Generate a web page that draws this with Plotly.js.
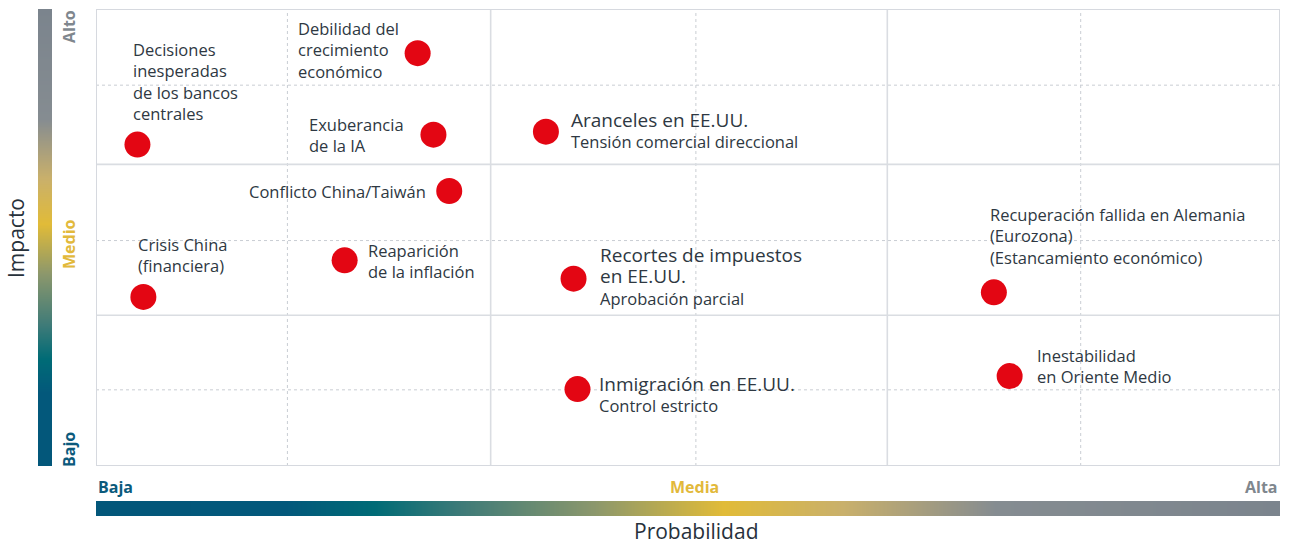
<!DOCTYPE html>
<html><head><meta charset="utf-8">
<script src="https://cdn.plot.ly/plotly-3.0.1.min.js"></script>
<style>html,body{margin:0;padding:0;background:#fff}#chart{width:1290px;height:544px}</style>
</head><body><div id="chart"></div>
<script>
// ---- data ----
const risks = [
  "Decisiones inesperadas de los bancos centrales",
  "Debilidad del crecimiento económico",
  "Exuberancia de la IA",
  "Aranceles en EE.UU.",
  "Conflicto China/Taiwán",
  "Crisis China (financiera)",
  "Reaparición de la inflación",
  "Recortes de impuestos en EE.UU.",
  "Inmigración en EE.UU.",
  "Recuperación fallida en Alemania",
  "Inestabilidad en Oriente Medio"
];
// Probabilidad (0 = Baja, 3 = Media, 6 = Alta)
const probability = [0.21, 1.63, 1.71, 2.28, 1.79, 0.24, 1.26, 2.42, 2.44, 4.55, 4.63];
// Impacto (0 = Bajo, 3 = Medio, 6 = Alto)
const impact = [4.22, 5.42, 4.35, 4.39, 3.61, 2.22, 2.70, 2.46, 1.01, 2.28, 1.18];

const labelHeads = ["", "", "", "Aranceles en EE.UU.", "", "", "",
  "Recortes de impuestos<br>en EE.UU.", "Inmigración en EE.UU.", "", ""];
const labelBodies = [
  "Decisiones<br>inesperadas<br>de los bancos<br>centrales",
  "Debilidad del<br>crecimiento<br>económico",
  "Exuberancia<br>de la IA",
  "Tensión comercial direccional",
  "Conflicto China/Taiwán",
  "Crisis China<br>(financiera)",
  "Reaparición<br>de la inflación",
  "Aprobación parcial",
  "Control estricto",
  "Recuperación fallida en Alemania<br>(Eurozona)<br>(Estancamiento económico)",
  "Inestabilidad<br>en Oriente Medio"
];
const xLevels = ["Baja", "Media", "Alta"];
const yLevels = ["Bajo", "Medio", "Alto"];
const xTitle = "Probabilidad";
const yTitle = "Impacto";

// ---- layout config (positions / styles) ----
const labelPlacement = [
  {anchor: 'left',  dx: -6,  dy: 63},
  {anchor: 'right', dx: -17, dy: 3},
  {anchor: 'right', dx: -27, dy: 0},
  {anchor: 'left',  dx: 23,  dy: 2},
  {anchor: 'right', dx: -21, dy: 0},
  {anchor: 'left',  dx: -7,  dy: 42},
  {anchor: 'left',  dx: 21,  dy: -1},
  {anchor: 'left',  dx: 24,  dy: 3},
  {anchor: 'left',  dx: 20,  dy: -5},
  {anchor: 'left',  dx: -6,  dy: 56},
  {anchor: 'left',  dx: 25,  dy: 10}
];
const FONT = "Open Sans, Noto Sans, sans-serif";
const TEXT = "#2e3842";
const gradScale = [
  [0, '#03577a'], [0.16, '#03587b'], [0.235, '#006b76'], [0.31, '#3f7b78'],
  [0.42, '#8b976c'], [0.53, '#e1bb38'], [0.63, '#c9b06b'], [0.76, '#858c91'], [1, '#7b848d']
];
const cBlue = '#0b5a7c', cYellow = '#e2b93b', cGray = '#7f878e';

const traces = [
  {type: 'heatmap', x: [0, 1], y: [0], z: [[0, 1]], zmin: 0, zmax: 1, zsmooth: 'best',
   colorscale: gradScale, showscale: false, hoverinfo: 'skip', xaxis: 'x2', yaxis: 'y2'},
  {type: 'heatmap', x: [0], y: [0, 1], z: [[0], [1]], zmin: 0, zmax: 1, zsmooth: 'best',
   colorscale: gradScale, showscale: false, hoverinfo: 'skip', xaxis: 'x3', yaxis: 'y3'},
  {type: 'scatter', mode: 'markers', x: probability, y: impact, text: risks,
   hoverinfo: 'text', marker: {size: 26, color: '#e30613'}, cliponaxis: false}
];

const shapes = [];
const gridSolidX = [2.0, 4.01], gridSolidY = [1.98, 3.96];
const gridDotX = [0.97, 3.04, 4.99], gridDotY = [1.0, 2.96, 5.0];
gridDotX.forEach(v => shapes.push({type:'line', xref:'x', yref:'y', x0:v, x1:v, y0:0, y1:6, layer:'below', line:{color:'#c9cdd3', width:1, dash:'dot'}}));
gridDotY.forEach(v => shapes.push({type:'line', xref:'x', yref:'y', y0:v, y1:v, x0:0, x1:6, layer:'below', line:{color:'#c9cdd3', width:1, dash:'dot'}}));
gridSolidX.forEach(v => shapes.push({type:'line', xref:'x', yref:'y', x0:v, x1:v, y0:0, y1:6, layer:'below', line:{color:'#dadde2', width:1.6}}));
gridSolidY.forEach(v => shapes.push({type:'line', xref:'x', yref:'y', y0:v, y1:v, x0:0, x1:6, layer:'below', line:{color:'#dadde2', width:1.6}}));
shapes.push({type:'rect', xref:'x', yref:'y', x0:0, x1:6, y0:0, y1:6, layer:'below', line:{color:'#d6d9df', width:2}});

const annotations = [];
risks.forEach((r, i) => {
  const p = labelPlacement[i];
  const txt = labelHeads[i] ? `<span style="font-size:19px">${labelHeads[i]}</span><br>${labelBodies[i]}` : labelBodies[i];
  annotations.push({xref:'x', yref:'y', x: probability[i], y: impact[i], text: txt, showarrow:false,
    xanchor: p.anchor, yanchor:'middle', align: 'left', xshift: p.dx, yshift: p.dy,
    font:{family: FONT, size: 16.5, color: TEXT}});
});
// level labels
const W = 1280, H = 535, T = 9;
const px = v => v / W, py = v => 1 - (v - T) / H;
annotations.push({xref:'paper', yref:'paper', x:px(96), y:py(487), xanchor:'left', yanchor:'middle', text:'<b>'+xLevels[0]+'</b>', showarrow:false, font:{family:FONT, size:16, color:cBlue}});
annotations.push({xref:'paper', yref:'paper', x:px(694), y:py(487), xanchor:'center', yanchor:'middle', text:'<b>'+xLevels[1]+'</b>', showarrow:false, font:{family:FONT, size:16, color:cYellow}});
annotations.push({xref:'paper', yref:'paper', x:px(1280), y:py(487), xanchor:'right', yanchor:'middle', text:'<b>'+xLevels[2]+'</b>', showarrow:false, font:{family:FONT, size:16, color:cGray}});
annotations.push({xref:'paper', yref:'paper', x:px(69), y:py(450), xanchor:'center', yanchor:'middle', textangle:-90, text:'<b>'+yLevels[0]+'</b>', showarrow:false, font:{family:FONT, size:16, color:cBlue}});
annotations.push({xref:'paper', yref:'paper', x:px(69), y:py(244), xanchor:'center', yanchor:'middle', textangle:-90, text:'<b>'+yLevels[1]+'</b>', showarrow:false, font:{family:FONT, size:16, color:cYellow}});
annotations.push({xref:'paper', yref:'paper', x:px(69), y:py(27), xanchor:'center', yanchor:'middle', textangle:-90, text:'<b>'+yLevels[2]+'</b>', showarrow:false, font:{family:FONT, size:16, color:cGray}});
annotations.push({xref:'paper', yref:'paper', x:px(696), y:0, xanchor:'center', yanchor:'bottom', yshift:-3, text:xTitle, showarrow:false, font:{family:FONT, size:21, color:'#27313b'}});
annotations.push({xref:'paper', yref:'paper', x:px(16), y:py(238), xanchor:'center', yanchor:'middle', textangle:-90, text:yTitle, showarrow:false, font:{family:FONT, size:21, color:'#27313b'}});

const hidden = {showgrid:false, zeroline:false, showticklabels:false, ticks:'', showline:false, fixedrange:true};
const layout = {
  width: 1290, height: 544,
  margin: {l:0, r:10, t:T, b:0},
  paper_bgcolor:'#fff', plot_bgcolor:'rgba(0,0,0,0)',
  showlegend:false,
  xaxis: Object.assign({domain:[96/W, 1], range:[0, 6]}, hidden),
  yaxis: Object.assign({domain:[py(466), 1], range:[0, 6]}, hidden),
  xaxis2: Object.assign({domain:[96/W, 1], range:[0, 1], anchor:'y2'}, hidden),
  yaxis2: Object.assign({domain:[py(516), py(501)], range:[-0.5, 0.5], anchor:'x2'}, hidden),
  xaxis3: Object.assign({domain:[38/W, 52/W], range:[-0.5, 0.5], anchor:'y3'}, hidden),
  yaxis3: Object.assign({domain:[py(466), 1], range:[0, 1], anchor:'x3'}, hidden),
  shapes, annotations,
  font:{family:FONT, color:TEXT}
};
Plotly.newPlot('chart', traces, layout, {displayModeBar:false, staticPlot:true});
</script></body></html>
